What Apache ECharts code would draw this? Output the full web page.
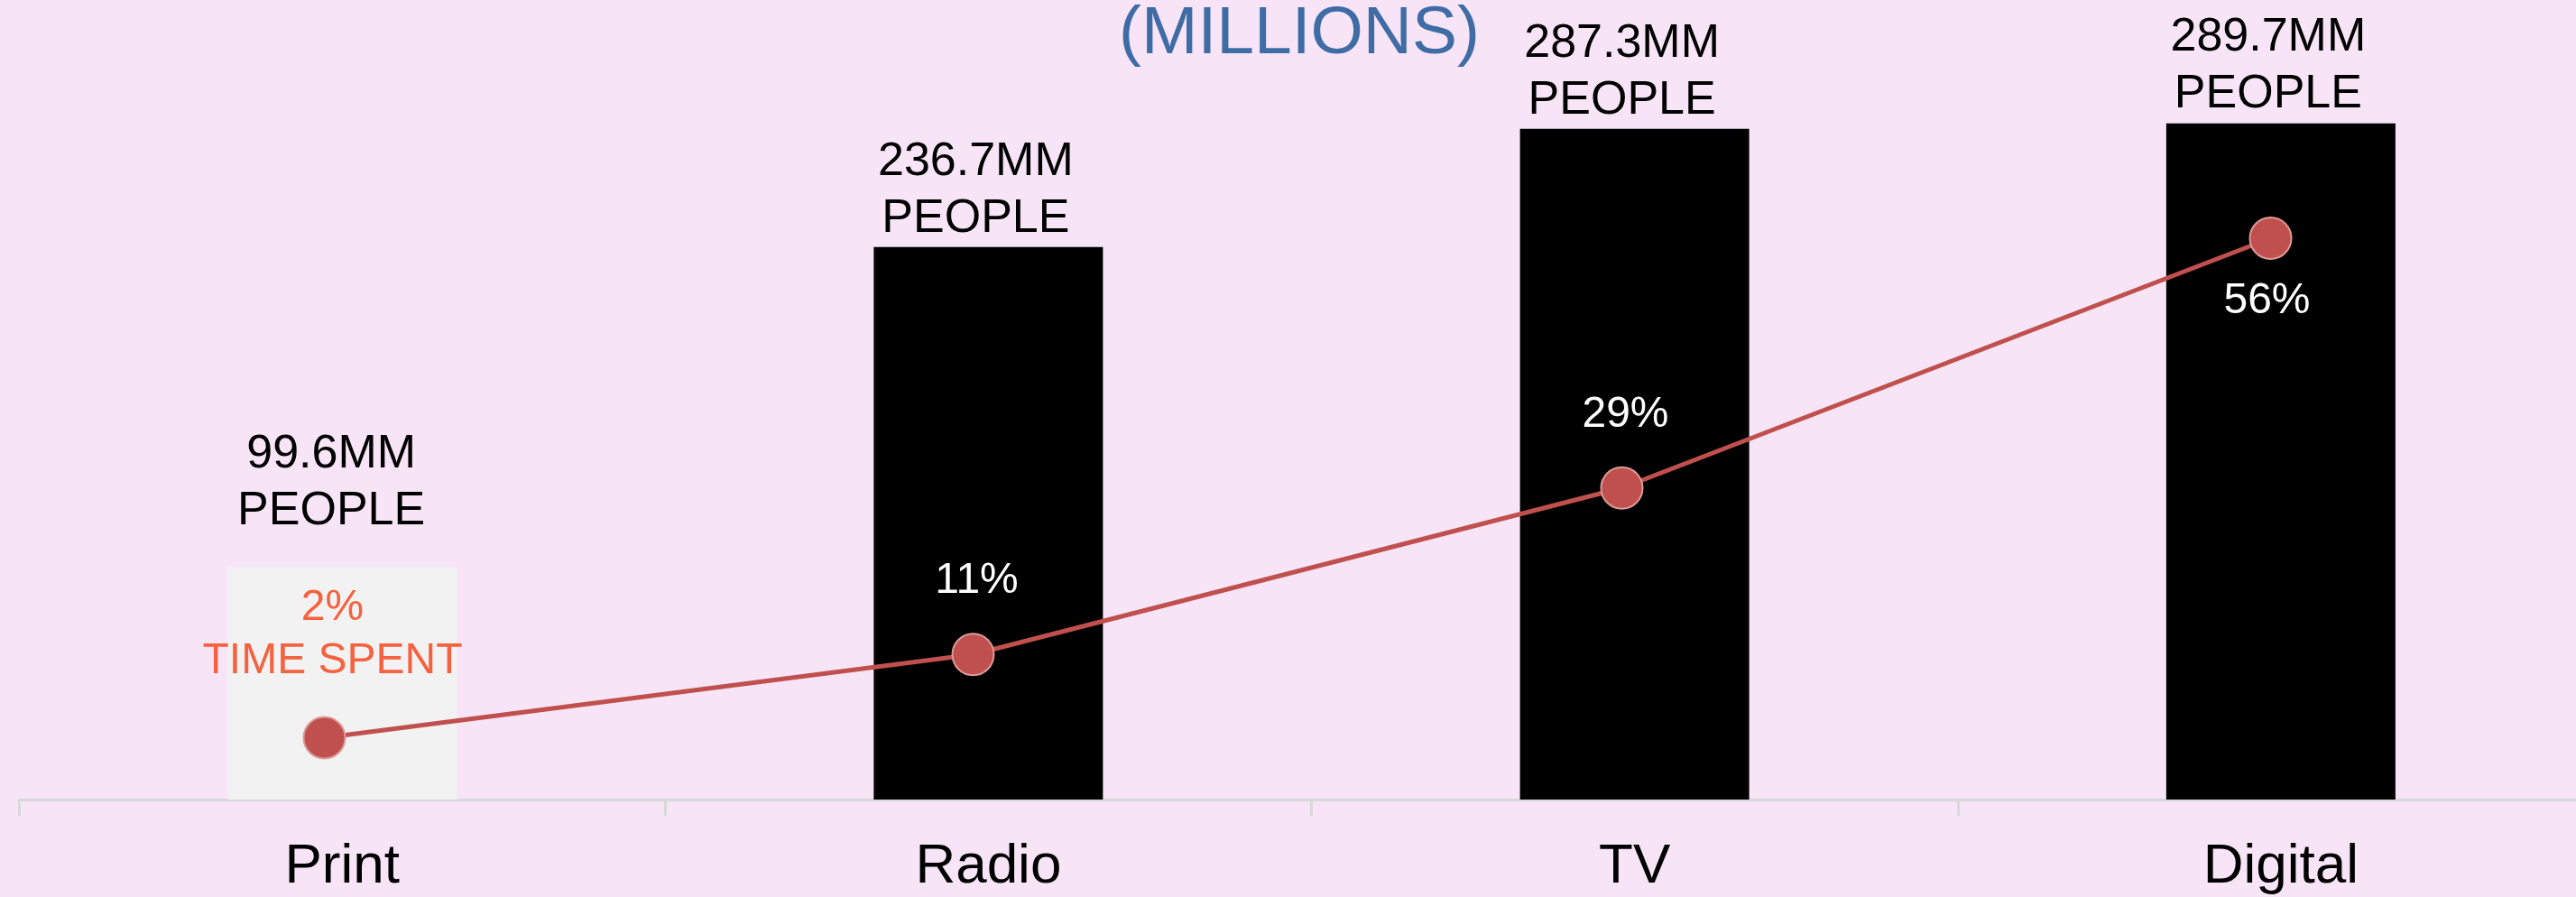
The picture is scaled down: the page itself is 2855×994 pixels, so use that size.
<!DOCTYPE html>
<html>
<head>
<meta charset="utf-8">
<script src="https://cdn.jsdelivr.net/npm/echarts@6/dist/echarts.min.js"></script>
<style>
html,body{margin:0;padding:0;background:#f7e4f7;overflow:hidden;width:2855px;height:994px;}
#chart{width:2900px;height:994px;}
</style>
</head>
<body>
<div id="chart"></div>
<script>
const categories = ['Print', 'Radio', 'TV', 'Digital'];
const peopleMM = [99.6, 236.7, 287.3, 289.7];
const timeSpentPct = [2, 11, 29, 56];
const titleText = '(MILLIONS)';

const FONT = "'Liberation Sans', Arial, sans-serif";
const chart = echarts.init(document.getElementById('chart'));

const barData = peopleMM.map((v, i) => ({
  value: v,
  itemStyle: { color: i === 0 ? '#f2f2f2' : '#000000' },
  label: i === 0 ? { offset: [-12, -30] } : {}
}));

const lineData = timeSpentPct.map((v, i) => {
  if (i === 0) {
    return { value: v, label: {
      position: 'top', distance: 31, offset: [9, 0],
      formatter: '{c}%\nTIME SPENT', color: '#f4623f', fontSize: 48, lineHeight: 59
    } };
  }
  if (i === timeSpentPct.length - 1) {
    return { value: v, label: { position: 'bottom', distance: 22, offset: [-4, 0] } };
  }
  return { value: v, label: { position: 'top', distance: 33, offset: [4, 0] } };
});

chart.setOption({
  backgroundColor: '#f7e4f7',
  animation: false,
  graphic: [{
    type: 'text', x: 1440, y: 38,
    style: { text: titleText, fill: '#3f6ca5', font: '75px ' + FONT, textAlign: 'center', textVerticalAlign: 'middle' }
  }],
  grid: [
    { left: 21, right: 14, top: 110, bottom: 108 },
    { left: -2, right: 24, top: 223, bottom: 156 }
  ],
  xAxis: [
    { type: 'category', gridIndex: 0, data: categories,
      axisLine: { lineStyle: { color: '#d9d9d9', width: 3 } },
      axisTick: { show: true, length: 18, lineStyle: { color: '#d9d9d9', width: 3 } },
      axisLabel: { color: '#000', fontSize: 62, lineHeight: 62, margin: 44, fontFamily: FONT } },
    { type: 'category', gridIndex: 1, data: categories, show: false }
  ],
  yAxis: [
    { type: 'value', gridIndex: 0, min: 0, max: 300, show: false },
    { type: 'value', gridIndex: 1, min: 0, max: 60, show: false }
  ],
  series: [
    { type: 'bar', xAxisIndex: 0, yAxisIndex: 0, data: barData, barWidth: 254,
      label: { show: true, position: 'top', distance: 0, offset: [-14, 0],
        formatter: p => p.value + 'MM\nPEOPLE',
        color: '#000', fontSize: 52, lineHeight: 63, fontFamily: FONT } },
    { type: 'line', xAxisIndex: 1, yAxisIndex: 1, data: lineData, z: 5,
      symbol: 'circle', symbolSize: 46,
      lineStyle: { color: '#c0504d', width: 5 },
      itemStyle: { color: '#c0504d', borderColor: '#dc9a98', borderWidth: 2 },
      label: { show: true, formatter: '{c}%', color: '#ffffff', fontSize: 48, lineHeight: 48, fontFamily: FONT } }
  ]
});
</script>
</body>
</html>
